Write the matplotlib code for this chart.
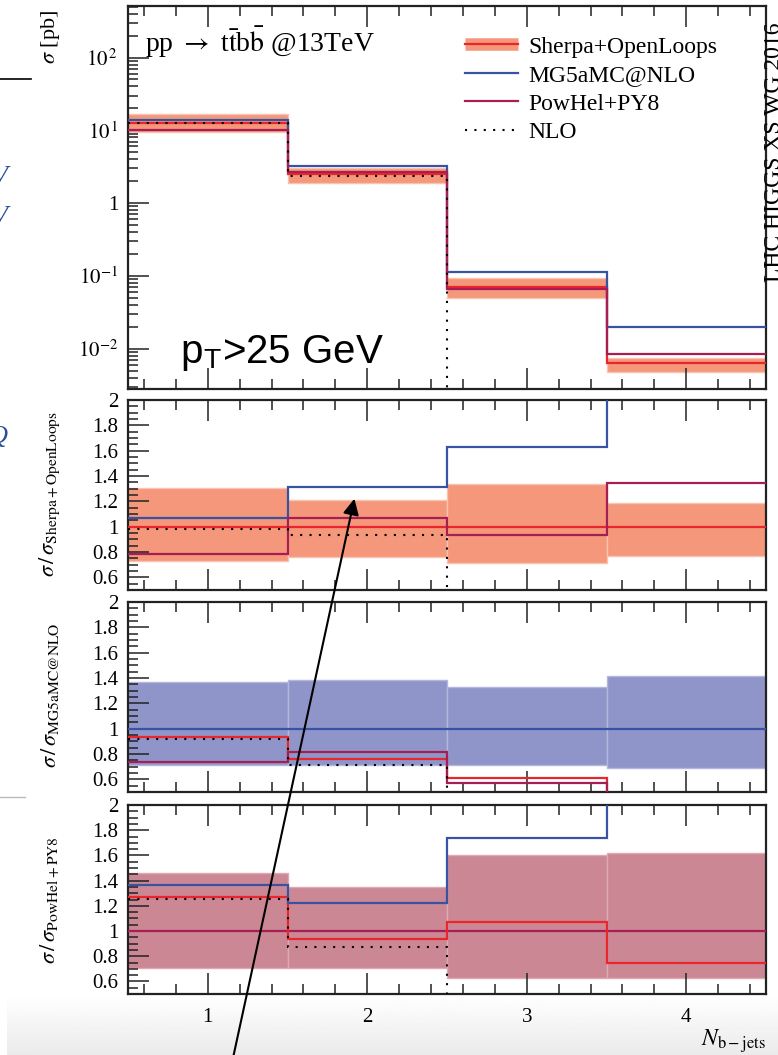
import numpy as np
import matplotlib
matplotlib.use('Agg')
import matplotlib.pyplot as plt
from matplotlib.ticker import FixedLocator, FixedFormatter, MultipleLocator, LogLocator, NullFormatter, FuncFormatter
from matplotlib.patches import FancyArrowPatch
from matplotlib.lines import Line2D

# b-jet multiplicity bins
edges = np.array([0.5, 1.5, 2.5, 3.5, 4.5])
n_bjets = [1, 2, 3, 4]

# cross sections [pb] per bin
sherpa = np.array([12.8, 2.5, 0.070, 0.0063])
mg5 = np.array([13.7, 3.28, 0.114, 0.0202])
powhel = np.array([10.05, 2.68, 0.0655, 0.00847])
nlo = np.array([12.6, 2.34, 0.0, 0.0])

# relative uncertainty envelopes of each generator
sherpa_lo = np.array([0.73, 0.76, 0.715, 0.77])
sherpa_hi = np.array([1.305, 1.21, 1.34, 1.19])
mg5_lo = np.array([0.71, 0.71, 0.71, 0.69])
mg5_hi = np.array([1.37, 1.385, 1.33, 1.415])
powhel_lo = np.array([0.705, 0.71, 0.63, 0.63])
powhel_hi = np.array([1.46, 1.35, 1.60, 1.62])

labels = ['Sherpa+OpenLoops', 'MG5aMC@NLO', 'PowHel+PY8', 'NLO']
top_ticks = [1e-2, 1e-1, 1, 1e1, 1e2]
top_ticklabels = [r'$10^{-2}$', r'$10^{-1}$', '1', r'$10^{\,1}$', r'$10^{\,2}$']
ratio_ticks = [0.6, 0.8, 1.0, 1.2, 1.4, 1.6, 1.8, 2.0]

c_sherpa = '#e8262c'
c_sherpa_band = '#f4977a'
c_mg5 = '#3953a4'
c_mg5_band = '#8f95c9'
c_powhel = '#a51f55'
c_powhel_band = '#cc8794'
c_spine = '#222222'

plt.rcParams['font.family'] = ['Liberation Serif', 'DejaVu Serif']
plt.rcParams['mathtext.fontset'] = 'stix'

W, H = 778, 1055
fig = plt.figure(figsize=(W / 100, H / 100), dpi=100)


def fx(px):
    return px / W


def fy(py):
    return 1 - py / H


def panel(top, bottom):
    return fig.add_axes([fx(128), fy(bottom), fx(766) - fx(128), fy(top) - fy(bottom)])


# faint grey fade along the bottom edge
bg = fig.add_axes([fx(7), 0, 1 - fx(7), fy(995)], zorder=-10)
grad = np.linspace(1.0, 0.92, 64).reshape(-1, 1)
bg.imshow(grad, aspect='auto', cmap='gray', vmin=0, vmax=1, extent=[0, 1, 0, 1])
bg.axis('off')

ax0 = panel(6, 389)
ax1 = panel(400, 590)
ax2 = panel(602, 792)
ax3 = panel(805, 994)
axes = [ax0, ax1, ax2, ax3]

lw = 1.6
nlo_style = dict(color='black', lw=1.5, linestyle=(0, (1, 3.5)))


def band(ax, lo, hi, face, edge):
    ax.bar(n_bjets, hi - lo, bottom=lo, width=1.0, color=face, edgecolor=edge, linewidth=1.0, zorder=1)


def steps(ax, vals, **kw):
    ax.stairs(vals, edges, baseline=None, zorder=3, **kw)


# main panel
nlo_safe = np.where(nlo > 0, nlo, 1e-9)
band(ax0, sherpa * sherpa_lo, sherpa * sherpa_hi, c_sherpa_band, '#f8c3b1')
steps(ax0, sherpa, color=c_sherpa, lw=lw)
steps(ax0, mg5, color=c_mg5, lw=lw)
steps(ax0, powhel, color=c_powhel, lw=lw)
steps(ax0, nlo_safe, **nlo_style)
ax0.set_yscale('log')
ax0.set_ylim(2.8e-3, 5.1e2)
ax0.yaxis.set_major_locator(FixedLocator(top_ticks))
ax0.yaxis.set_major_formatter(FixedFormatter(top_ticklabels))
ax0.yaxis.set_minor_locator(LogLocator(base=10, subs=np.arange(2, 10)))
ax0.yaxis.set_minor_formatter(NullFormatter())

fig.text(fx(145), fy(52), r'pp $\rightarrow$ t$\bar{\mathrm{t}}$b$\bar{\mathrm{b}}$ @13TeV',
         fontsize=20, va='baseline', ha='left')
fig.text(fx(180), fy(363), r'p$_{\mathregular{T}}$>25 GeV', fontsize=29, va='baseline', ha='left',
         family=['Liberation Sans', 'DejaVu Sans'])

h_sherpa = (Line2D([], [], color=c_sherpa_band, lw=9, solid_capstyle='butt'),
            Line2D([], [], color=c_sherpa, lw=lw))
h_mg5 = Line2D([], [], color=c_mg5, lw=lw)
h_powhel = Line2D([], [], color=c_powhel, lw=lw)
h_nlo = Line2D([], [], **nlo_style)
ax0.legend([h_sherpa, h_mg5, h_powhel, h_nlo], labels, loc='upper left',
           bbox_to_anchor=((465 - 128) / 638, (389 - 36) / 383), frameon=False,
           fontsize=17, handlelength=2.25, handletextpad=0.45, labelspacing=0.3,
           borderpad=0, borderaxespad=0)

# ratio panels
band(ax1, sherpa_lo, sherpa_hi, c_sherpa_band, '#f8c3b1')
steps(ax1, sherpa / sherpa, color=c_sherpa, lw=lw)
steps(ax1, mg5 / sherpa, color=c_mg5, lw=lw)
steps(ax1, powhel / sherpa, color=c_powhel, lw=lw)
steps(ax1, nlo / sherpa, **nlo_style)

band(ax2, mg5_lo, mg5_hi, c_mg5_band, '#b3b7dc')
steps(ax2, mg5 / mg5, color=c_mg5, lw=lw)
steps(ax2, sherpa / mg5, color=c_sherpa, lw=lw)
steps(ax2, powhel / mg5, color=c_powhel, lw=lw)
steps(ax2, nlo / mg5, **nlo_style)

band(ax3, powhel_lo, powhel_hi, c_powhel_band, '#ddaab3')
steps(ax3, powhel / powhel, color=c_powhel, lw=lw)
steps(ax3, sherpa / powhel, color=c_sherpa, lw=lw)
steps(ax3, mg5 / powhel, color=c_mg5, lw=lw)
steps(ax3, nlo / powhel, **nlo_style)

for ax in [ax1, ax2, ax3]:
    ax.set_ylim(0.5, 2.0)
    ax.yaxis.set_major_locator(FixedLocator(ratio_ticks))
    ax.yaxis.set_major_formatter(FuncFormatter(lambda v, p: '%g' % v))
    ax.yaxis.set_minor_locator(MultipleLocator(0.05))

for ax in axes:
    ax.set_xlim(0.5, 4.5)
    ax.xaxis.set_major_locator(FixedLocator(n_bjets))
    ax.xaxis.set_minor_locator(MultipleLocator(0.2))
    ax.tick_params(which='both', direction='in', top=True, bottom=True, left=True, right=False,
                   color=c_spine, width=1.1, labelsize=15, pad=7)
    ax.tick_params(which='major', length=15)
    ax.tick_params(which='minor', length=7)
    for s in ax.spines.values():
        s.set_linewidth(1.6)
        s.set_color(c_spine)
    if ax is not ax3:
        ax.tick_params(labelbottom=False)
ax3.tick_params(axis='x', pad=10)

# axis titles
fig.text(fx(50), fy(37), r'$\sigma$ [pb]', rotation=90, ha='center', va='center', fontsize=16)
fig.text(fx(50), fy(494), r'$\sigma\,/\,\sigma_{\mathrm{Sherpa+OpenLoops}}$', rotation=90,
         ha='center', va='center', fontsize=16)
fig.text(fx(50), fy(695), r'$\sigma\,/\,\sigma_{\mathrm{MG5aMC@NLO}}$', rotation=90,
         ha='center', va='center', fontsize=16)
fig.text(fx(50), fy(900), r'$\sigma\,/\,\sigma_{\mathrm{PowHel+PY8}}$', rotation=90,
         ha='center', va='center', fontsize=16)
fig.text(fx(766), fy(1046), r'$N_{\mathrm{b-jets}}$', ha='right', va='baseline', fontsize=17)
fig.text(fx(774), fy(152), 'LHC HIGGS XS WG 2016', rotation=90, ha='center', va='center',
         fontsize=17)

# bits of the surrounding slide
fig.add_artist(Line2D([0, fx(31)], [fy(79), fy(79)], color='black', lw=1.2, transform=fig.transFigure))
fig.add_artist(Line2D([0, fx(25)], [fy(797), fy(797)], color='#bbbbbb', lw=1.0, transform=fig.transFigure))
for yy, ch in [(177, 'V'), (217, 'V'), (437, 'Q')]:
    fig.text(fx(8), fy(yy), ch, ha='right', va='center', fontsize=19, style='italic', color='#2b4c9a')

# pointer arrow
fig.add_artist(FancyArrowPatch((fx(233), fy(1058)), (fx(355), fy(496)), transform=fig.transFigure,
                               arrowstyle='-|>', mutation_scale=24, lw=1.5, color='black'))

fig.savefig('out.png', dpi=100)
